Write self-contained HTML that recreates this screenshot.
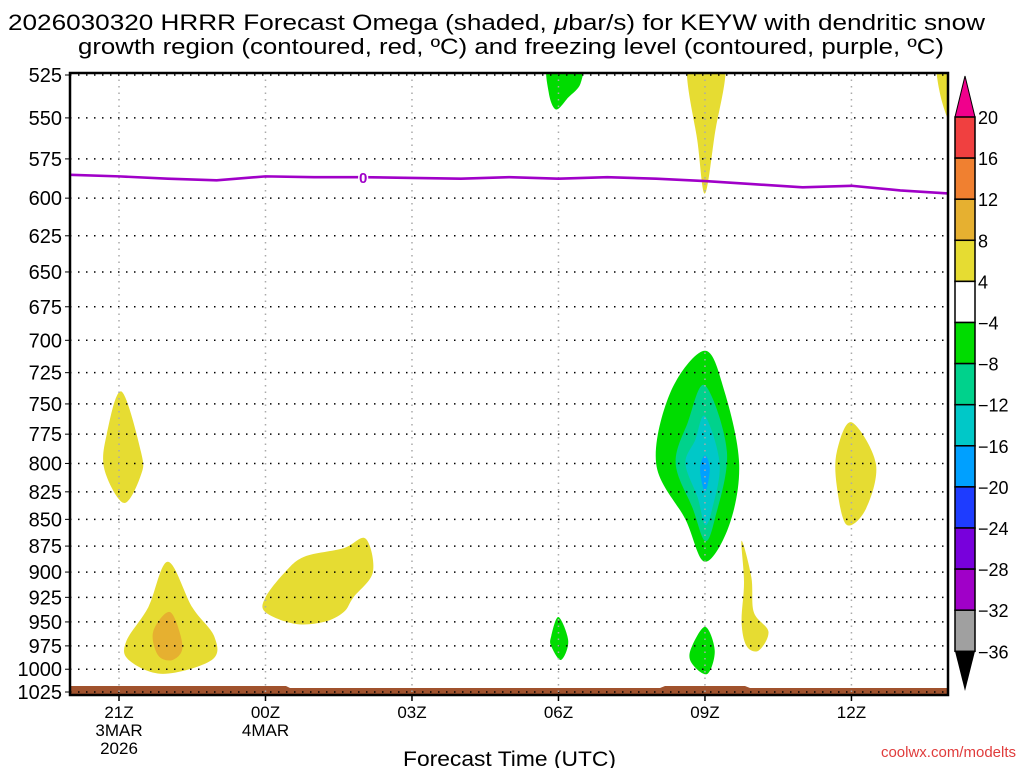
<!DOCTYPE html>
<html><head><meta charset="utf-8"><style>
html,body{margin:0;padding:0;background:#fff;}
svg{display:block;font-family:"Liberation Sans","DejaVu Sans",sans-serif;}
</style></head><body>
<svg id="chart" width="1024" height="768" viewBox="0 0 1024 768">
<text x="8" y="30" font-size="22" textLength="977" lengthAdjust="spacingAndGlyphs">2026030320 HRRR Forecast Omega (shaded, <tspan font-style="italic">μ</tspan>bar/s) for KEYW with dendritic snow</text>
<text x="78" y="54" font-size="22" textLength="866" lengthAdjust="spacingAndGlyphs">growth region (contoured, red, ºC) and freezing level (contoured, purple, ºC)</text>
<g id="fills"></g>
<g id="grid"></g>
<g id="fz"></g>
<g id="axes"></g>
<g id="cbar"></g>
<text x="403" y="766" font-size="21" textLength="213" lengthAdjust="spacingAndGlyphs">Forecast Time (UTC)</text>
<text x="1016" y="757" text-anchor="end" font-size="15" fill="#e03c3c">coolwx.com/modelts</text>
</svg>
<script>
const pressureTicks=[525,550,575,600,625,650,675,700,725,750,775,800,825,850,875,900,925,950,975,1000,1025];
const hourTicks=[0,3,6,9,12,15];
const hourLabels=[["21Z","3MAR","2026"],["00Z","4MAR"],["03Z"],["06Z"],["09Z"],["12Z"]];
const freezeHours=[-1,0,1,2,3,4,5,6,7,8,9,10,11,12,13,14,15,16,17];
const freezePressure=[585,586,587.5,588.5,586,586.5,586.5,587,587.5,586.5,587.5,586.5,587.5,589,591,593,592,595,597];
const cbLevels=[20,16,12,8,4,-4,-8,-12,-16,-20,-24,-28,-32,-36];
const cbColors=["#f04040","#f08030","#e6b030","#e6dc32","#ffffff","#00dc00","#00d28c","#00c8c8","#00a0ff","#1e3cff","#7800dc","#a000c8","#a0a0a0"];
const blobYellowA=[[0.05,740],[0.45,790],[0.45,810],[0.1,835],[-0.3,805],[-0.25,775]];
const blobYellowB=[[1.0,890],[1.5,935],[1.95,965],[1.9,990],[0.9,1005],[0.2,990],[0.15,970],[0.6,935]];
const blobOrangeB=[[1.05,940],[1.3,975],[1.1,990],[0.8,985],[0.7,960]];
const blobYellowC=[[3.0,925],[3.4,900],[3.8,885],[4.6,877],[5.05,868],[5.2,900],[4.8,925],[4.6,940],[4.2,950],[3.6,952],[3.0,940]];
const blobGreenTop=[[8.8,518],[9.45,518],[9.45,530],[9.2,538],[8.95,545],[8.8,535]];
const blobYellowTop=[[11.65,518],[12.4,518],[12.2,560],[12.0,597],[11.85,565]];
const blobYellowTR=[[16.75,518],[17.1,518],[17.1,555],[16.85,540]];
const blobGreenBig=[[12,708],[12.4,740],[12.7,800],[12.5,855],[12,890],[11.6,850],[11.0,800],[11.3,740]];
const blobTeal=[[12,735],[12.45,790],[12.2,850],[12,870],[11.75,840],[11.4,800],[11.65,765]];
const blobCyan=[[12,760],[12.3,800],[12.15,840],[12,855],[11.85,830],[11.6,800],[11.8,780]];
const blobBlue=[[12,793],[12.1,805],[12.0,825],[11.9,805]];
const blobYellow10=[[12.75,870],[12.95,905],[13.0,940],[13.3,960],[13.1,980],[12.85,975],[12.75,950],[12.8,910]];
const blobGreen06=[[9.0,945],[9.2,970],[9.05,990],[8.85,975],[8.85,965]];
const blobGreen09=[[12.0,955],[12.2,980],[12.05,1005],[11.75,995],[11.7,980]];
const blobYellow12=[[15.0,765],[15.5,800],[15.3,840],[14.9,855],[14.7,820],[14.7,790]];
const blobs=[["#e6dc32",blobYellowA],["#e6dc32",blobYellowB],["#e6b030",blobOrangeB],["#e6dc32",blobYellowC],["#00dc00",blobGreenTop],["#e6dc32",blobYellowTop],["#e6dc32",blobYellowTR],["#00dc00",blobGreenBig],["#00d28c",blobTeal],["#00c8c8",blobCyan],["#00a0ff",blobBlue],["#e6dc32",blobYellow10],["#00dc00",blobGreen06],["#00dc00",blobGreen09],["#e6dc32",blobYellow12]];

const NS="http://www.w3.org/2000/svg";
const L=70,R=948,T=73,B=695;
function X(h){return 119+h*48.83;}
function Y(p){return 75+(Math.log(p)-Math.log(525))/(Math.log(1025)-Math.log(525))*617;}
function mk(tag,attrs,parent){const e=document.createElementNS(NS,tag);for(const k in attrs)e.setAttribute(k,attrs[k]);parent.appendChild(e);return e;}
function smooth(pts){const n=pts.length;let d=`M${pts[0][0]},${pts[0][1]}`;for(let i=0;i<n;i++){const p0=pts[(i-1+n)%n],p1=pts[i],p2=pts[(i+1)%n],p3=pts[(i+2)%n];const c1=[p1[0]+(p2[0]-p0[0])/6,p1[1]+(p2[1]-p0[1])/6],c2=[p2[0]-(p3[0]-p1[0])/6,p2[1]-(p3[1]-p1[1])/6];d+=`C${c1[0]},${c1[1]} ${c2[0]},${c2[1]} ${p2[0]},${p2[1]}`;}return d+"Z";}

const defs=mk("defs",{},document.getElementById("chart"));
const cp=mk("clipPath",{id:"pc"},defs);mk("rect",{x:L,y:T,width:R-L,height:B-T},cp);
const fills=document.getElementById("fills");fills.setAttribute("clip-path","url(#pc)");
blobs.forEach(b=>{const pts=b[1].map(q=>[X(q[0]),Y(q[1])]);
const e=mk("path",{d:smooth(pts),fill:b[0]},fills);

});
const g=mk("path",{d:`M${L},686 L286,686 L290,688 L660,688 L665,686 L745,686 L750,688 L${R},688 L${R},${B} L${L},${B}Z`,fill:"#a0522d"},fills);



const grid=document.getElementById("grid");
pressureTicks.forEach(p=>{const e=mk("line",{x1:L,x2:R,y1:Y(p),y2:Y(p),stroke:"#000","stroke-width":1.5,"stroke-dasharray":"1.5 6.5"},grid);

});
hourTicks.forEach(h=>{const e=mk("line",{x1:X(h),x2:X(h),y1:T,y2:B,stroke:"#aaa","stroke-width":1.5,"stroke-dasharray":"1.5 5"},grid);

});

const fz=document.getElementById("fz");
const fzd=freezeHours.map((h,i)=>(i?"L":"M")+X(h)+","+Y(freezePressure[i])).join(" ");
const fl=mk("path",{d:fzd,fill:"none",stroke:"#a000c8","stroke-width":2.6,"clip-path":"url(#pc)"},fz);


const lb=mk("text",{x:X(5),y:Y(freezePressure[6])+6,"text-anchor":"middle","font-size":15,"font-weight":"bold",fill:"#a000c8",stroke:"#fff","stroke-width":3,"paint-order":"stroke"},fz);lb.textContent="0";



const ax=document.getElementById("axes");
mk("rect",{x:L,y:T,width:R-L,height:B-T,fill:"none",stroke:"#000","stroke-width":2.5},ax);
pressureTicks.forEach(p=>{mk("line",{x1:L-5,x2:L,y1:Y(p),y2:Y(p),stroke:"#000"},ax);
const t=mk("text",{x:L-8,y:Y(p)+7,"text-anchor":"end","font-size":20},ax);t.textContent=p;

});
hourTicks.forEach((h,i)=>{mk("line",{x1:X(h),x2:X(h),y1:B,y2:B+6,stroke:"#000","stroke-width":1.5},ax);
hourLabels[i].forEach((s,j)=>{const t=mk("text",{x:X(h),y:B+23+j*18,"text-anchor":"middle","font-size":17},ax);t.textContent=s;

});});

const cb=document.getElementById("cbar");
const cx=955,cw=20,top0=117,step=41.1;
mk("path",{d:`M${cx},${top0} L${cx+cw/2},76 L${cx+cw},${top0}Z`,fill:"#f0008c",stroke:"#000"},cb);
cbColors.forEach((c,i)=>{const r=mk("rect",{x:cx,y:top0+i*step,width:cw,height:step,fill:c,stroke:"#000","stroke-width":1.5},cb);

});
const bot=top0+cbColors.length*step;
mk("path",{d:`M${cx},${bot} L${cx+cw/2},691 L${cx+cw},${bot}Z`,fill:"#000"},cb);
cbLevels.forEach((v,i)=>{const t=mk("text",{x:978,y:top0+i*step+7,"font-size":18},cb);t.textContent=v<0?"\u2212"+(-v):v;

});
</script>
</body></html>
